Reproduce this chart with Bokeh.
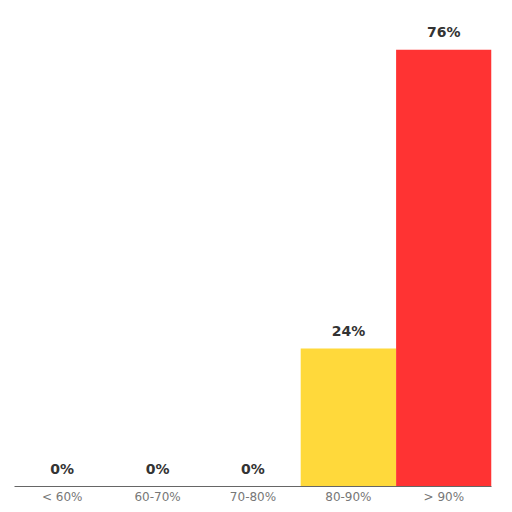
from bokeh.plotting import figure
from bokeh.models import ColumnDataSource, Range1d
from bokeh.core.properties import value
from bokeh.embed import file_html
from bokeh.resources import INLINE

categories = ["< 60%", "60-70%", "70-80%", "80-90%", "> 90%"]
values = [0, 0, 0, 24, 76]
colors = ["#FFD93B", "#FFD93B", "#FFD93B", "#FFD93B", "#FF3333"]
labels = [f"{v}%" for v in values]

src = ColumnDataSource(dict(cat=categories, val=values, color=colors, label=labels))

p = figure(x_range=categories, y_range=Range1d(0, 83), width=504, height=506,
           output_backend="svg", toolbar_location=None,
           min_border_left=14, min_border_right=13, min_border_top=9, min_border_bottom=0)
p.vbar(x="cat", top="val", width=1.0, color="color", line_color=None, source=src)
p.text(x="cat", y="val", text="label", source=src, text_align="center", text_baseline="bottom",
       y_offset=-10, text_font=value("DejaVu Sans"), text_font_style="bold",
       text_font_size="14px", text_color="#333333")

p.yaxis.visible = False
p.xgrid.visible = False
p.ygrid.visible = False
p.outline_line_color = None
p.xaxis.axis_line_color = "#666666"
p.xaxis.major_tick_line_color = None
p.xaxis.minor_tick_line_color = None
p.xaxis.major_tick_out = 0
p.xaxis.major_tick_in = 0
p.xaxis.minor_tick_out = 0
p.xaxis.major_label_text_font = "DejaVu Sans"
p.xaxis.major_label_text_font_size = "12px"
p.xaxis.major_label_text_color = "#777777"
p.xaxis.major_label_standoff = 3
p.x_range.range_padding = 0

open("out.html", "w").write(file_html(p, INLINE))
